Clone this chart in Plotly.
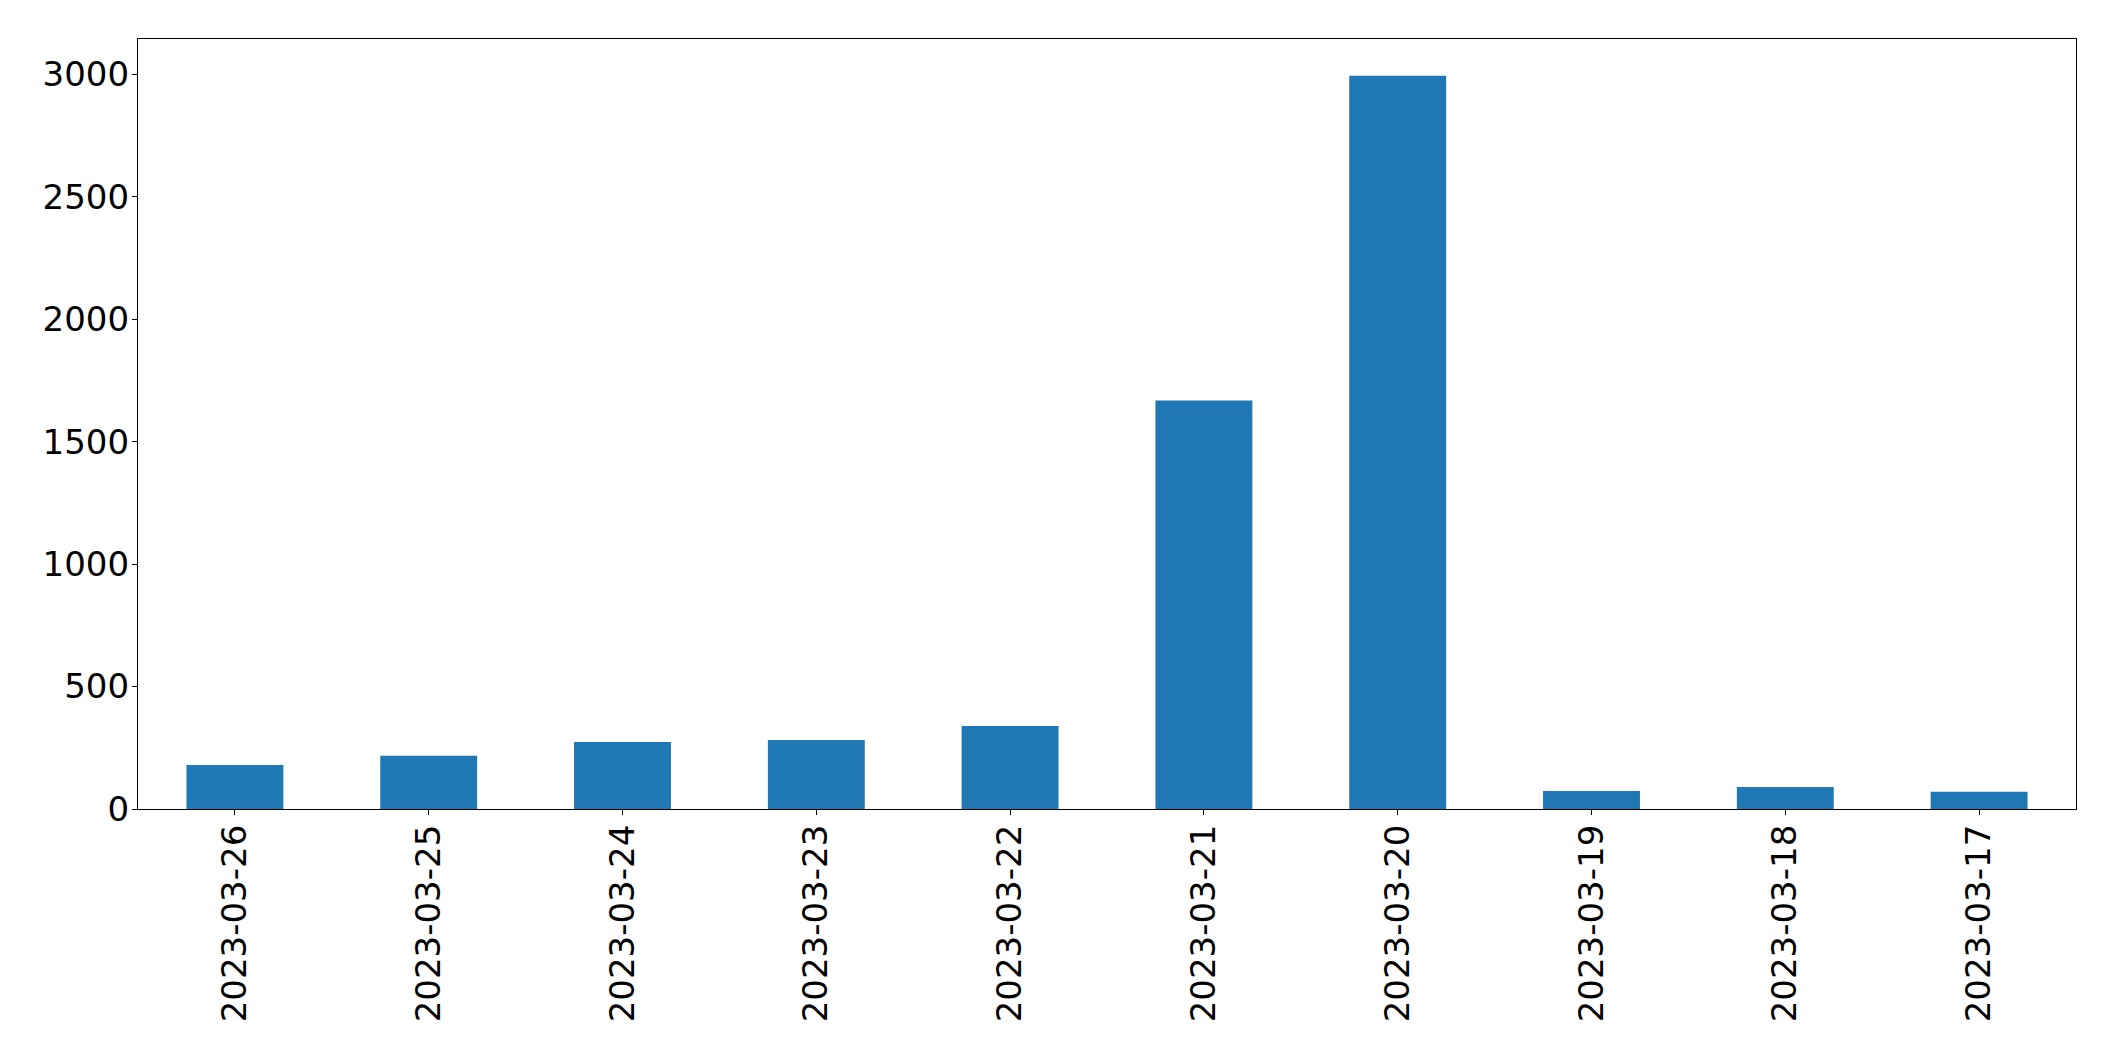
import plotly.graph_objects as go

dates = ["2023-03-26", "2023-03-25", "2023-03-24", "2023-03-23", "2023-03-22",
         "2023-03-21", "2023-03-20", "2023-03-19", "2023-03-18", "2023-03-17"]
counts = [180, 217, 274, 282, 339, 1668, 2995, 74, 90, 70]
y_ticks = [0, 500, 1000, 1500, 2000, 2500, 3000]

fig = go.Figure(go.Bar(
    x=dates, y=counts, width=0.5,
    marker=dict(color="#1f77b4", line=dict(width=0)),
))

font = dict(family="DejaVu Sans", size=34, color="black")
fig.update_layout(
    width=2099, height=1045,
    margin=dict(l=130, r=31, t=31, b=244),
    paper_bgcolor="white", plot_bgcolor="white",
    showlegend=False,
    font=font,
)
fig.update_xaxes(
    type="category", range=[-0.5, 9.5],
    tickangle=-90, tickfont=font, ticklabelstandoff=-4,
    showline=True, mirror=True, linecolor="black", linewidth=1.3,
    ticks="outside", ticklen=5, tickcolor="black", tickwidth=1.3,
    showgrid=False, zeroline=False,
)
fig.update_yaxes(
    range=[0, max(counts) * 1.05],
    tickvals=y_ticks, ticktext=[str(v) for v in y_ticks], tickfont=font,
    ticklabelstandoff=-4,
    showline=True, mirror=True, linecolor="black", linewidth=1.3,
    ticks="outside", ticklen=5, tickcolor="black", tickwidth=1.3,
    showgrid=False, zeroline=False,
)
fig.write_html("out.html")
